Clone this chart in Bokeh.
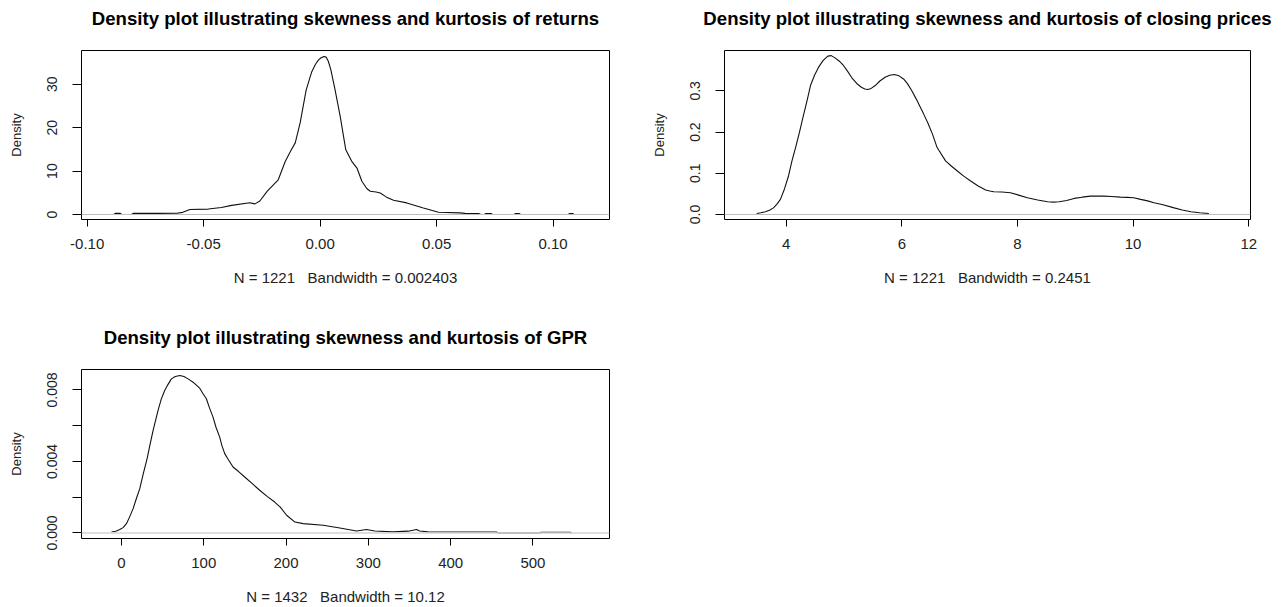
from bokeh.plotting import figure
from bokeh.layouts import column, row
from bokeh.models import Range1d, FixedTicker, Span, Title
from bokeh.embed import file_html
from bokeh.resources import INLINE

# ---------------- data ----------------
ret_x = [-0.0940, -0.0885, -0.0880, -0.0858, -0.0852, -0.0810, -0.0803, -0.0700, -0.0615,
         -0.0590, -0.0559, -0.0480, -0.0424, -0.0380, -0.0302, -0.0280, -0.0259, -0.0227,
         -0.0180, -0.0150, -0.0125, -0.0107, -0.0086, -0.0060, -0.0036, -0.0020, -0.0007,
         0.0004, 0.0012, 0.0019, 0.0026, 0.0035, 0.0046, 0.0064, 0.0086, 0.0110, 0.0135,
         0.0158, 0.0179, 0.0200, 0.0215, 0.0240, 0.0258, 0.0285, 0.0315, 0.0372,
         0.0443, 0.0508, 0.0600, 0.0622, 0.0680, 0.0690, 0.0706, 0.0710, 0.0735, 0.0740,
         0.0833, 0.0838, 0.0855, 0.0860, 0.1065, 0.1070, 0.1085, 0.1090, 0.1150]
ret_y = [0.0, 0.0, 0.25, 0.25, 0.0, 0.0, 0.25, 0.25, 0.3,
         0.5, 1.15, 1.25, 1.6, 2.1, 2.7, 2.45, 3.1, 5.4,
         8.0, 12.2, 14.8, 16.5, 21.1, 28.7, 32.9, 34.6, 35.6,
         36.1, 36.3, 36.4, 36.2, 35.3, 33.3, 28.7, 22.6, 14.9, 12.3,
         10.7, 7.65, 6.0, 5.36, 5.2, 4.97, 4.0, 3.3, 2.67,
         1.5, 0.53, 0.37, 0.25, 0.2, 0.0, 0.0, 0.22, 0.22, 0.0,
         0.0, 0.22, 0.22, 0.0, 0.0, 0.22, 0.22, 0.0, 0.0]

close_x = [3.49, 3.56, 3.64, 3.71, 3.78, 3.84, 3.90, 3.97, 4.04, 4.10, 4.17, 4.23, 4.29,
           4.36, 4.42, 4.49, 4.56, 4.64, 4.72, 4.78, 4.85, 4.92, 4.99, 5.06, 5.135, 5.22,
           5.30, 5.36, 5.41, 5.47, 5.54, 5.62, 5.71, 5.79, 5.87, 5.95, 6.03, 6.10, 6.17,
           6.25, 6.32, 6.38, 6.45, 6.53, 6.61, 6.756, 6.86, 6.96, 7.07, 7.19, 7.32, 7.45,
           7.52, 7.59, 7.73, 7.88, 8.02, 8.17, 8.35, 8.52, 8.62, 8.72, 8.85, 8.98, 9.12,
           9.26, 9.37, 9.49, 9.63, 9.78, 9.90, 10.01, 10.13, 10.25, 10.36, 10.50, 10.71,
           10.85, 11.0, 11.15, 11.31]
close_y = [0.0024, 0.0042, 0.0065, 0.0105, 0.016, 0.025, 0.0366, 0.062, 0.0934, 0.13,
           0.1666, 0.20, 0.2356, 0.276, 0.313, 0.338, 0.3576, 0.374, 0.3844, 0.3855,
           0.3795, 0.372, 0.3617, 0.348, 0.3317, 0.318, 0.3088, 0.3045, 0.3032, 0.306,
           0.313, 0.324, 0.333, 0.338, 0.3398, 0.3365, 0.329, 0.317, 0.3007, 0.28, 0.26,
           0.243, 0.222, 0.195, 0.1624, 0.13, 0.117, 0.1056, 0.093, 0.0812, 0.069, 0.0593,
           0.057, 0.0551, 0.0545, 0.0527, 0.047, 0.0405, 0.035, 0.0307, 0.0300, 0.0307,
           0.034, 0.039, 0.042, 0.0446, 0.0448, 0.0446, 0.0435, 0.0422, 0.0415, 0.0405,
           0.0366, 0.033, 0.0283, 0.024, 0.016, 0.011, 0.0065, 0.0042, 0.0024]

gpr_x = [-12.1, -7.0, -1.9, 2.0, 6.1, 10.0, 14.2, 18.0, 22.3, 26.5, 31.2, 35.0, 38.5, 41.5,
         44.5, 48.5, 52.6, 56.5, 60.7, 65.5, 70.9, 76.0, 80.9, 88.0, 95.1, 99.0, 103.2,
         107.0, 111.3, 115.0, 119.4, 122.0, 125.5, 130.0, 135.6, 142.0, 149.8, 159.0,
         168.0, 177.0, 186.2, 193.0, 200.7, 210.8, 220.9, 245.1, 265.4,
         285.7, 297.8, 307.9, 330.0, 348.3, 358.5, 362.5, 372.6, 455.6, 458.0, 508.0, 510.0,
         545.0, 547.0]
gpr_y = [0.000056, 0.0001, 0.00019, 0.0003, 0.00052, 0.0009, 0.00136, 0.0019, 0.00248,
         0.0033, 0.00416, 0.0050, 0.00574, 0.0063, 0.00686, 0.0075, 0.00797, 0.0083,
         0.00862, 0.00875, 0.00881, 0.00875, 0.00862, 0.0084, 0.0081, 0.0078, 0.00751,
         0.0070, 0.00648, 0.0059, 0.00536, 0.0049, 0.00444, 0.0041, 0.00369, 0.00345,
         0.00313, 0.00276, 0.00239, 0.00205, 0.00173, 0.00145, 0.00099, 0.00061, 0.00052,
         0.00043, 0.00028, 0.00011, 0.00019, 0.00011, 0.00006, 0.0001, 0.00019, 0.00011,
         0.00006, 0.00005, 0.0, 0.0, 0.00004, 0.00004, 0.0]

ret_xticks = [-0.10, -0.05, 0.0, 0.05, 0.10]
ret_xlabels = ["-0.10", "-0.05", "0.00", "0.05", "0.10"]
ret_yticks = [0, 10, 20, 30]
ret_ylabels = ["0", "10", "20", "30"]

close_xticks = [4, 6, 8, 10, 12]
close_xlabels = ["4", "6", "8", "10", "12"]
close_yticks = [0.0, 0.1, 0.2, 0.3]
close_ylabels = ["0.0", "0.1", "0.2", "0.3"]

gpr_xticks = [0, 100, 200, 300, 400, 500]
gpr_xlabels = ["0", "100", "200", "300", "400", "500"]
gpr_yticks = [0.0, 0.002, 0.004, 0.006, 0.008]
gpr_ylabels = ["0.000", "", "0.004", "", "0.008"]

titles = ["Density plot illustrating skewness and kurtosis of returns",
          "Density plot illustrating skewness and kurtosis of closing prices",
          "Density plot illustrating skewness and kurtosis of GPR"]
xlabs = ["N = 1221\u00a0\u00a0\u00a0Bandwidth = 0.002403",
         "N = 1221\u00a0\u00a0\u00a0Bandwidth = 0.2451",
         "N = 1432\u00a0\u00a0\u00a0Bandwidth = 10.12"]

FONT = "Liberation Sans"


def make(xs, ys, xr, yr, xt, xl, yt, yl, title, xlab, w, h, bl, br, bt, bb,
         zero_w=1.0, zero_c="#bebebe"):
    p = figure(width=w, height=h, output_backend="svg", toolbar_location=None,
               x_range=Range1d(*xr), y_range=Range1d(*yr),
               min_border_left=bl, min_border_right=br, min_border_top=bt, min_border_bottom=bb)
    p.grid.visible = False
    p.outline_line_color = "black"
    p.outline_line_width = 1
    p.background_fill_color = "white"
    p.border_fill_color = "white"

    # spacer between frame and title
    p.add_layout(Title(text=" ", text_font_size="1px", standoff=19), "above")
    p.title.text = title
    p.title.align = "center"
    p.title.text_font = FONT
    p.title.text_font_size = "18.6px"
    p.title.text_font_style = "bold"
    p.title.text_color = "black"
    p.title.standoff = 0

    xa = p.xaxis[0]
    xa.ticker = FixedTicker(ticks=xt)
    xa.major_label_overrides = {t: l for t, l in zip(xt, xl)}
    xa.axis_line_color = None
    xa.major_tick_out = 7
    xa.major_tick_in = 0
    xa.minor_tick_out = 0
    xa.minor_tick_in = 0
    xa.major_tick_line_color = "black"
    xa.major_label_standoff = 12
    xa.major_label_text_font = FONT
    xa.major_label_text_font_size = "15px"
    xa.major_label_text_color = "#222222"
    xa.axis_label = xlab
    xa.axis_label_text_font = FONT
    xa.axis_label_text_font_size = "15px"
    xa.axis_label_text_font_style = "normal"
    xa.axis_label_text_color = "#222222"
    xa.axis_label_standoff = 17

    ya = p.yaxis[0]
    ya.ticker = FixedTicker(ticks=yt)
    ya.major_label_overrides = {t: l for t, l in zip(yt, yl)}
    ya.axis_line_color = None
    ya.major_tick_out = 9
    ya.major_tick_in = 0
    ya.minor_tick_out = 0
    ya.minor_tick_in = 0
    ya.major_tick_line_color = "black"
    ya.major_label_orientation = "vertical"
    ya.major_label_standoff = 15
    ya.major_label_text_font = FONT
    ya.major_label_text_font_size = "14px"
    ya.major_label_text_color = "#222222"
    ya.axis_label = "Density"
    ya.axis_label_text_font = FONT
    ya.axis_label_text_font_size = "13px"
    ya.axis_label_text_font_style = "normal"
    ya.axis_label_text_color = "#222222"
    ya.axis_label_standoff = 21

    p.line(xs, ys, line_color="#111111", line_width=1.1)
    p.add_layout(Span(location=0, dimension="width", line_color=zero_c, line_width=zero_w))
    return p


p1 = make(ret_x, ret_y, (-0.10245, 0.1242), (-1.15, 37.77), ret_xticks, ret_xlabels,
          ret_yticks, ret_ylabels, titles[0], xlabs[0], 640, 300, 81, 31, 49, 81)
p2 = make(close_x, close_y, (2.933, 12.03), (-0.0122, 0.398), close_xticks, close_xlabels,
          close_yticks, close_ylabels, titles[1], xlabs[1], 646, 300, 84, 36, 50, 81)
p3 = make(gpr_x, gpr_y, (-48.5, 593.0), (-0.00031, 0.009145), gpr_xticks, gpr_xlabels,
          gpr_yticks, gpr_ylabels, titles[2], xlabs[2], 640, 307, 81, 31, 69, 68,
          zero_w=1.6, zero_c="#d3d3d3")

layout = column(row(p1, p2, spacing=0), row(p3, spacing=0), spacing=0)

with open("out.html", "w") as f:
    f.write(file_html(layout, INLINE))
